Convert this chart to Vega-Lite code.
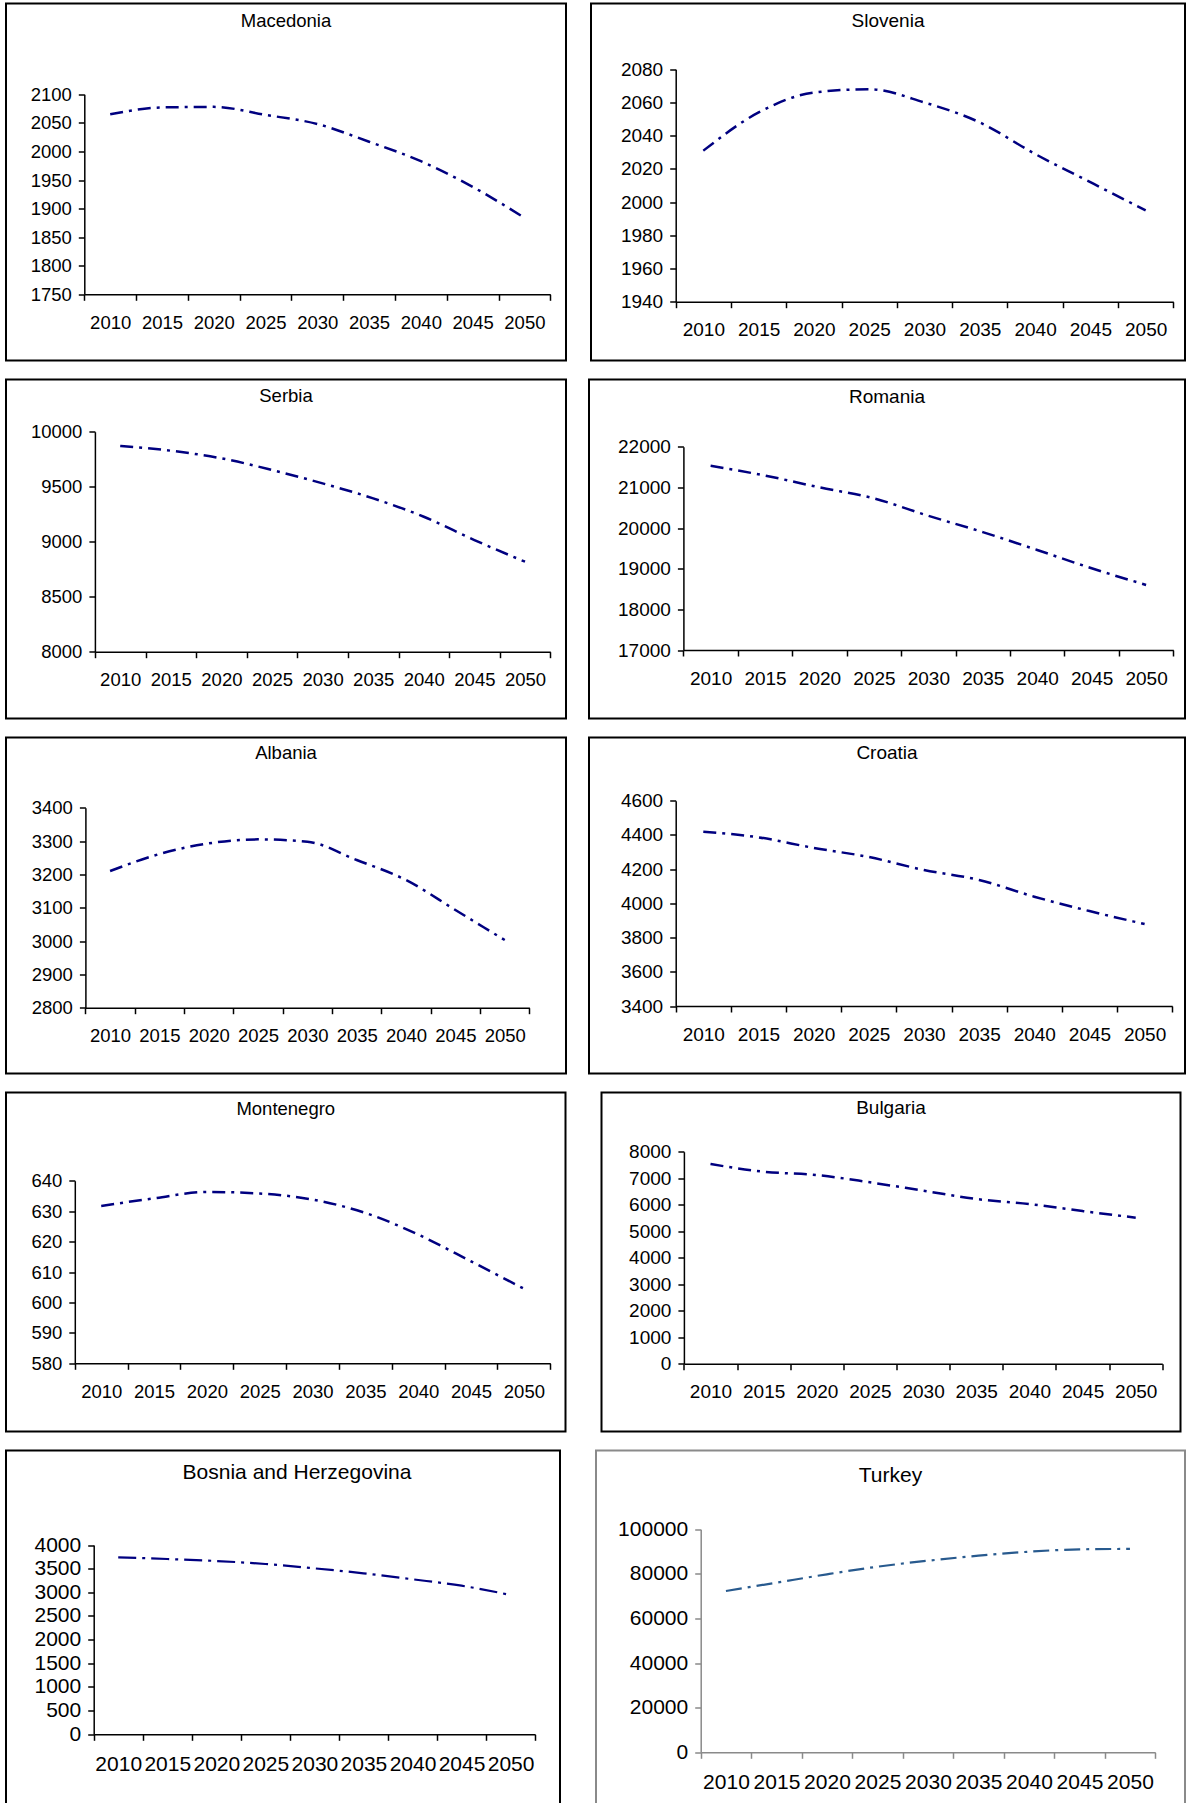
{
  "$schema": "https://vega.github.io/schema/vega-lite/v6.json",
  "padding": {"left": 5, "top": 2.5, "right": 0, "bottom": 0},
  "background": "#ffffff",
  "spacing": 17,
  "datasets": {
    "pop": [
      {"country": "Macedonia", "year": 2010, "value": 2065},
      {"country": "Macedonia", "year": 2015, "value": 2077},
      {"country": "Macedonia", "year": 2020, "value": 2078},
      {"country": "Macedonia", "year": 2025, "value": 2064},
      {"country": "Macedonia", "year": 2030, "value": 2048},
      {"country": "Macedonia", "year": 2035, "value": 2017},
      {"country": "Macedonia", "year": 2040, "value": 1983},
      {"country": "Macedonia", "year": 2045, "value": 1938},
      {"country": "Macedonia", "year": 2050, "value": 1884},
      {"country": "Slovenia", "year": 2010, "value": 2031},
      {"country": "Slovenia", "year": 2015, "value": 2054},
      {"country": "Slovenia", "year": 2020, "value": 2066},
      {"country": "Slovenia", "year": 2025, "value": 2068},
      {"country": "Slovenia", "year": 2030, "value": 2060},
      {"country": "Slovenia", "year": 2035, "value": 2048},
      {"country": "Slovenia", "year": 2040, "value": 2029},
      {"country": "Slovenia", "year": 2045, "value": 2012},
      {"country": "Slovenia", "year": 2050, "value": 1995},
      {"country": "Serbia", "year": 2010, "value": 9870},
      {"country": "Serbia", "year": 2015, "value": 9827},
      {"country": "Serbia", "year": 2020, "value": 9758},
      {"country": "Serbia", "year": 2025, "value": 9652},
      {"country": "Serbia", "year": 2030, "value": 9530},
      {"country": "Serbia", "year": 2035, "value": 9394},
      {"country": "Serbia", "year": 2040, "value": 9227},
      {"country": "Serbia", "year": 2045, "value": 9015},
      {"country": "Serbia", "year": 2050, "value": 8818},
      {"country": "Romania", "year": 2010, "value": 21530},
      {"country": "Romania", "year": 2015, "value": 21290},
      {"country": "Romania", "year": 2020, "value": 21000},
      {"country": "Romania", "year": 2025, "value": 20730},
      {"country": "Romania", "year": 2030, "value": 20300},
      {"country": "Romania", "year": 2035, "value": 19900},
      {"country": "Romania", "year": 2040, "value": 19460},
      {"country": "Romania", "year": 2045, "value": 19010},
      {"country": "Romania", "year": 2050, "value": 18600},
      {"country": "Albania", "year": 2010, "value": 3210},
      {"country": "Albania", "year": 2015, "value": 3261},
      {"country": "Albania", "year": 2020, "value": 3293},
      {"country": "Albania", "year": 2025, "value": 3305},
      {"country": "Albania", "year": 2030, "value": 3298},
      {"country": "Albania", "year": 2035, "value": 3243},
      {"country": "Albania", "year": 2040, "value": 3183},
      {"country": "Albania", "year": 2045, "value": 3093},
      {"country": "Albania", "year": 2050, "value": 3003},
      {"country": "Croatia", "year": 2010, "value": 4419},
      {"country": "Croatia", "year": 2015, "value": 4386},
      {"country": "Croatia", "year": 2020, "value": 4324},
      {"country": "Croatia", "year": 2025, "value": 4271},
      {"country": "Croatia", "year": 2030, "value": 4195},
      {"country": "Croatia", "year": 2035, "value": 4137},
      {"country": "Croatia", "year": 2040, "value": 4039},
      {"country": "Croatia", "year": 2045, "value": 3955},
      {"country": "Croatia", "year": 2050, "value": 3879},
      {"country": "Montenegro", "year": 2010, "value": 631.7},
      {"country": "Montenegro", "year": 2015, "value": 634.2},
      {"country": "Montenegro", "year": 2020, "value": 636.3},
      {"country": "Montenegro", "year": 2025, "value": 635.8},
      {"country": "Montenegro", "year": 2030, "value": 633.8},
      {"country": "Montenegro", "year": 2035, "value": 629.4},
      {"country": "Montenegro", "year": 2040, "value": 622.3},
      {"country": "Montenegro", "year": 2045, "value": 613.5},
      {"country": "Montenegro", "year": 2050, "value": 604.5},
      {"country": "Bulgaria", "year": 2010, "value": 7535},
      {"country": "Bulgaria", "year": 2015, "value": 7245},
      {"country": "Bulgaria", "year": 2020, "value": 7120},
      {"country": "Bulgaria", "year": 2025, "value": 6845},
      {"country": "Bulgaria", "year": 2030, "value": 6530},
      {"country": "Bulgaria", "year": 2035, "value": 6215},
      {"country": "Bulgaria", "year": 2040, "value": 6025},
      {"country": "Bulgaria", "year": 2045, "value": 5760},
      {"country": "Bulgaria", "year": 2050, "value": 5510},
      {"country": "Bosnia and Herzegovina", "year": 2010, "value": 3740},
      {"country": "Bosnia and Herzegovina", "year": 2015, "value": 3704},
      {"country": "Bosnia and Herzegovina", "year": 2020, "value": 3662},
      {"country": "Bosnia and Herzegovina", "year": 2025, "value": 3599},
      {"country": "Bosnia and Herzegovina", "year": 2030, "value": 3507},
      {"country": "Bosnia and Herzegovina", "year": 2035, "value": 3402},
      {"country": "Bosnia and Herzegovina", "year": 2040, "value": 3275},
      {"country": "Bosnia and Herzegovina", "year": 2045, "value": 3140},
      {"country": "Bosnia and Herzegovina", "year": 2050, "value": 2944},
      {"country": "Turkey", "year": 2010, "value": 72330},
      {"country": "Turkey", "year": 2015, "value": 76070},
      {"country": "Turkey", "year": 2020, "value": 79820},
      {"country": "Turkey", "year": 2025, "value": 83230},
      {"country": "Turkey", "year": 2030, "value": 85920},
      {"country": "Turkey", "year": 2035, "value": 88160},
      {"country": "Turkey", "year": 2040, "value": 89960},
      {"country": "Turkey", "year": 2045, "value": 91000},
      {"country": "Turkey", "year": 2050, "value": 91200}
    ]
  },
  "vconcat": [
    {
      "spacing": 23,
      "hconcat": [
        {
          "width": 560, "height": 357,
          "title": {"text": "Macedonia", "offset": -27, "fontSize": 18.5},
          "data": {"name": "pop"},
          "transform": [{"filter": "datum.country === 'Macedonia'"}],
          "mark": {"type": "line", "color": "#000080", "strokeWidth": 2.5, "strokeDash": [13, 6, 3, 6], "interpolate": "monotone"},
          "encoding": {
            "x": {"field": "year", "type": "ordinal", "bandPosition": 0.5, "scale": {"type": "band", "range": [78.3, 544.3], "paddingInner": 0, "paddingOuter": 0}, "axis": {"title": null, "offset": -66.2, "labelFontSize": 18.5}},
            "y": {"field": "value", "type": "quantitative", "scale": {"domain": [1750, 2100], "range": [290.8, 90.8], "nice": false, "zero": false}, "axis": {"title": null, "offset": -78.3, "values": [1750, 1800, 1850, 1900, 1950, 2000, 2050, 2100], "labelFontSize": 18.5}}
          }
        },
        {
          "width": 594, "height": 357,
          "title": {"text": "Slovenia", "offset": -27, "fontSize": 19},
          "data": {"name": "pop"},
          "transform": [{"filter": "datum.country === 'Slovenia'"}],
          "mark": {"type": "line", "color": "#000080", "strokeWidth": 2.5, "strokeDash": [13, 6, 3, 6], "interpolate": "monotone"},
          "encoding": {
            "x": {"field": "year", "type": "ordinal", "bandPosition": 0.5, "scale": {"type": "band", "range": [84.7, 582.3], "paddingInner": 0, "paddingOuter": 0}, "axis": {"title": null, "offset": -58.8, "labelFontSize": 19}},
            "y": {"field": "value", "type": "quantitative", "scale": {"domain": [1940, 2080], "range": [298.2, 65.8], "nice": false, "zero": false}, "axis": {"title": null, "offset": -84.7, "values": [1940, 1960, 1980, 2000, 2020, 2040, 2060, 2080], "labelFontSize": 19}}
          }
        }
      ]
    },
    {
      "spacing": 21,
      "hconcat": [
        {
          "width": 560, "height": 339,
          "title": {"text": "Serbia", "offset": -25.5, "fontSize": 18.5},
          "data": {"name": "pop"},
          "transform": [{"filter": "datum.country === 'Serbia'"}],
          "mark": {"type": "line", "color": "#000080", "strokeWidth": 2.5, "strokeDash": [13, 6, 3, 6], "interpolate": "monotone"},
          "encoding": {
            "x": {"field": "year", "type": "ordinal", "bandPosition": 0.5, "scale": {"type": "band", "range": [88.9, 544.3], "paddingInner": 0, "paddingOuter": 0}, "axis": {"title": null, "offset": -66.8, "labelFontSize": 18.5}},
            "y": {"field": "value", "type": "quantitative", "scale": {"domain": [8000, 10000], "range": [272.2, 52.2], "nice": false, "zero": false}, "axis": {"title": null, "offset": -88.9, "values": [8000, 8500, 9000, 9500, 10000], "labelFontSize": 18.5}}
          }
        },
        {
          "width": 596, "height": 339,
          "title": {"text": "Romania", "offset": -27.2, "fontSize": 19},
          "data": {"name": "pop"},
          "transform": [{"filter": "datum.country === 'Romania'"}],
          "mark": {"type": "line", "color": "#000080", "strokeWidth": 2.5, "strokeDash": [13, 6, 3, 6], "interpolate": "monotone"},
          "encoding": {
            "x": {"field": "year", "type": "ordinal", "bandPosition": 0.5, "scale": {"type": "band", "range": [94.4, 584.3], "paddingInner": 0, "paddingOuter": 0}, "axis": {"title": null, "offset": -68.5, "labelFontSize": 19}},
            "y": {"field": "value", "type": "quantitative", "scale": {"domain": [17000, 22000], "range": [270.5, 67.2], "nice": false, "zero": false}, "axis": {"title": null, "offset": -94.4, "values": [17000, 18000, 19000, 20000, 21000, 22000], "labelFontSize": 19}}
          }
        }
      ]
    },
    {
      "spacing": 21,
      "hconcat": [
        {
          "width": 560, "height": 336,
          "title": {"text": "Albania", "offset": -24.8, "fontSize": 18.5},
          "data": {"name": "pop"},
          "transform": [{"filter": "datum.country === 'Albania'"}],
          "mark": {"type": "line", "color": "#000080", "strokeWidth": 2.5, "strokeDash": [13, 6, 3, 6], "interpolate": "monotone"},
          "encoding": {
            "x": {"field": "year", "type": "ordinal", "bandPosition": 0.5, "scale": {"type": "band", "range": [79.4, 523.4], "paddingInner": 0, "paddingOuter": 0}, "axis": {"title": null, "offset": -65.8, "labelFontSize": 18.5}},
            "y": {"field": "value", "type": "quantitative", "scale": {"domain": [2800, 3400], "range": [270.2, 70.2], "nice": false, "zero": false}, "axis": {"title": null, "offset": -79.4, "values": [2800, 2900, 3000, 3100, 3200, 3300, 3400], "labelFontSize": 18.5}}
          }
        },
        {
          "width": 596, "height": 336,
          "title": {"text": "Croatia", "offset": -25.8, "fontSize": 19},
          "data": {"name": "pop"},
          "transform": [{"filter": "datum.country === 'Croatia'"}],
          "mark": {"type": "line", "color": "#000080", "strokeWidth": 2.5, "strokeDash": [13, 6, 3, 6], "interpolate": "monotone"},
          "encoding": {
            "x": {"field": "year", "type": "ordinal", "bandPosition": 0.5, "scale": {"type": "band", "range": [86.7, 583.2], "paddingInner": 0, "paddingOuter": 0}, "axis": {"title": null, "offset": -67.5, "labelFontSize": 19}},
            "y": {"field": "value", "type": "quantitative", "scale": {"domain": [3400, 4600], "range": [268.5, 63.2], "nice": false, "zero": false}, "axis": {"title": null, "offset": -86.7, "values": [3400, 3600, 3800, 4000, 4200, 4400, 4600], "labelFontSize": 19}}
          }
        }
      ]
    },
    {
      "spacing": 33.5,
      "hconcat": [
        {
          "width": 559.5, "height": 339,
          "title": {"text": "Montenegro", "offset": -25.8, "fontSize": 18.5},
          "data": {"name": "pop"},
          "transform": [{"filter": "datum.country === 'Montenegro'"}],
          "mark": {"type": "line", "color": "#000080", "strokeWidth": 2.5, "strokeDash": [13, 6, 3, 6], "interpolate": "monotone"},
          "encoding": {
            "x": {"field": "year", "type": "ordinal", "bandPosition": 0.5, "scale": {"type": "band", "range": [68.8, 544.3], "paddingInner": 0, "paddingOuter": 0}, "axis": {"title": null, "offset": -68.2, "labelFontSize": 18.5}},
            "y": {"field": "value", "type": "quantitative", "scale": {"domain": [580, 640], "range": [270.8, 88.2], "nice": false, "zero": false}, "axis": {"title": null, "offset": -68.8, "values": [580, 590, 600, 610, 620, 630, 640], "labelFontSize": 18.5}}
          }
        },
        {
          "width": 579, "height": 339,
          "title": {"text": "Bulgaria", "offset": -25.8, "fontSize": 19},
          "data": {"name": "pop"},
          "transform": [{"filter": "datum.country === 'Bulgaria'"}],
          "mark": {"type": "line", "color": "#000080", "strokeWidth": 2.5, "strokeDash": [13, 6, 3, 6], "interpolate": "monotone"},
          "encoding": {
            "x": {"field": "year", "type": "ordinal", "bandPosition": 0.5, "scale": {"type": "band", "range": [82.4, 560.8], "paddingInner": 0, "paddingOuter": 0}, "axis": {"title": null, "offset": -67.8, "labelFontSize": 19}},
            "y": {"field": "value", "type": "quantitative", "scale": {"domain": [0, 8000], "range": [271.2, 59.2], "nice": false, "zero": false}, "axis": {"title": null, "offset": -82.4, "values": [0, 1000, 2000, 3000, 4000, 5000, 6000, 7000, 8000], "labelFontSize": 19}}
          }
        }
      ]
    },
    {
      "spacing": 34,
      "hconcat": [
        {
          "width": 554, "height": 360,
          "title": {"text": "Bosnia and Herzegovina", "offset": -32.8, "dx": 14, "fontSize": 21},
          "data": {"name": "pop"},
          "transform": [{"filter": "datum.country === 'Bosnia and Herzegovina'"}],
          "mark": {"type": "line", "color": "#000080", "strokeWidth": 2.2, "strokeDash": [18, 6, 3, 6], "interpolate": "monotone"},
          "encoding": {
            "x": {"field": "year", "type": "ordinal", "bandPosition": 0.5, "scale": {"type": "band", "range": [87.7, 529.1], "paddingInner": 0, "paddingOuter": 0}, "axis": {"title": null, "offset": -76.2, "labelFontSize": 21}},
            "y": {"field": "value", "type": "quantitative", "scale": {"domain": [0, 4000], "range": [283.8, 94.5], "nice": false, "zero": false}, "axis": {"title": null, "offset": -87.7, "values": [0, 500, 1000, 1500, 2000, 2500, 3000, 3500, 4000], "labelFontSize": 21}}
          }
        },
        {
          "width": 589, "height": 360,
          "view": {"stroke": "#8a8a8a", "strokeWidth": 2},
          "title": {"text": "Turkey", "offset": -35.5, "fontSize": 21},
          "data": {"name": "pop"},
          "transform": [{"filter": "datum.country === 'Turkey'"}],
          "mark": {"type": "line", "color": "#285a8e", "strokeWidth": 2.2, "strokeDash": [16, 6, 3, 6], "interpolate": "monotone"},
          "encoding": {
            "x": {"field": "year", "type": "ordinal", "bandPosition": 0.5, "scale": {"type": "band", "range": [104.7, 559.2], "paddingInner": 0, "paddingOuter": 0}, "axis": {"title": null, "offset": -58.2, "labelFontSize": 21, "domainColor": "#8a8a8a", "tickColor": "#8a8a8a"}},
            "y": {"field": "value", "type": "quantitative", "scale": {"domain": [0, 100000], "range": [301.8, 78.8], "nice": false, "zero": false}, "axis": {"title": null, "offset": -104.7, "values": [0, 20000, 40000, 60000, 80000, 100000], "labelFontSize": 21, "domainColor": "#8a8a8a", "tickColor": "#8a8a8a"}}
          }
        }
      ]
    }
  ],
  "config": {
    "font": "Liberation Sans",
    "view": {"stroke": "#000000", "strokeWidth": 2},
    "title": {"anchor": "middle", "frame": "group", "baseline": "middle", "fontWeight": "normal", "color": "#000000", "font": "Liberation Sans"},
    "axis": {
      "grid": false,
      "domainColor": "#000000",
      "tickColor": "#000000",
      "labelColor": "#000000",
      "domainWidth": 1.5,
      "tickWidth": 1.5,
      "tickSize": 6,
      "labelFont": "Liberation Sans",
      "labelOverlap": false,
      "labelBound": false,
      "labelFlush": false,
      "format": "d"
    },
    "axisX": {"tickBand": "extent", "labelPadding": 13, "labelAngle": 0},
    "axisY": {"labelPadding": 7}
  }
}
